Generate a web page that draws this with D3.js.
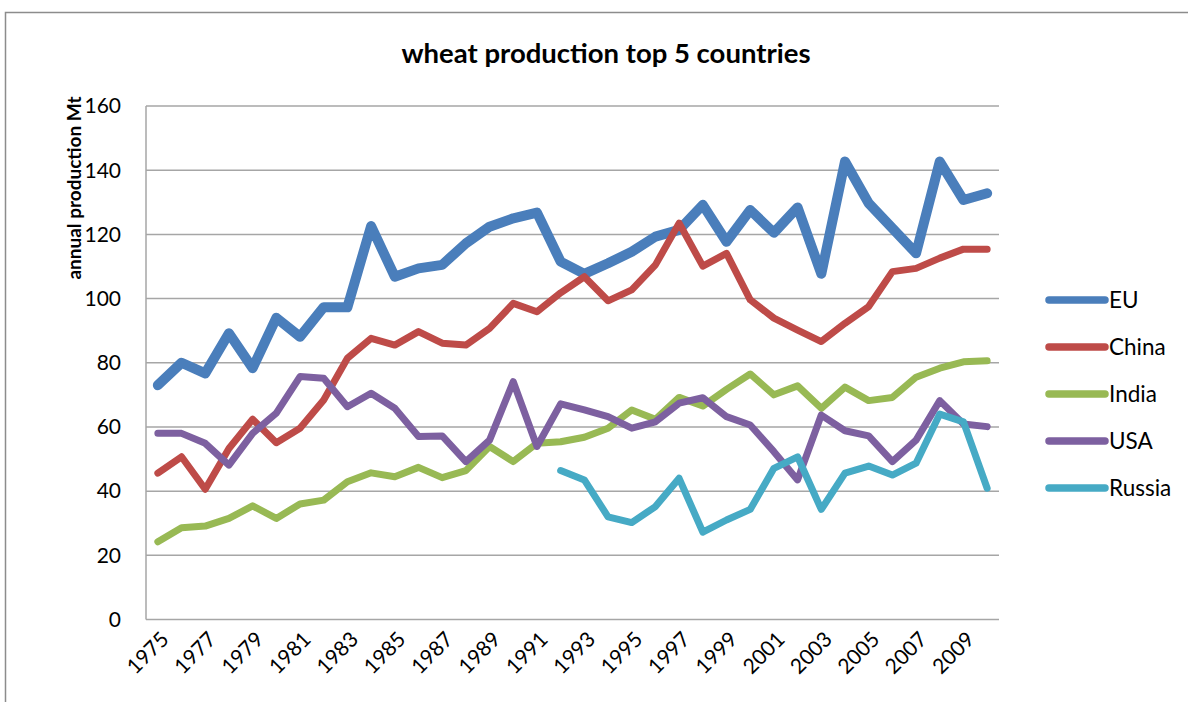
<!DOCTYPE html>
<html>
<head>
<meta charset="utf-8">
<script src="https://cdn.jsdelivr.net/npm/d3@7"></script>
<style>
body { margin: 0; background: #fff; }
text { font-family: Lato, "Open Sans", sans-serif; }
</style>
</head>
<body>
<svg width="1188" height="702"></svg>
<script>
// years 1975 - 2010
var years = d3.range(1975, 2011);
var yTicks = [0, 20, 40, 60, 80, 100, 120, 140, 160];

var eu = [73, 80, 76.7, 89.2, 78.3, 94, 88.1, 97.3, 97.3, 122.6, 106.8, 109.4, 110.5, 117.2, 122.4, 125, 126.8, 111.5, 107.7, 111, 114.6, 119.3, 121.4, 129.2, 117.7, 127.6, 120.5, 128.4, 107.7, 142.7, 129.7, 121.9, 114.1, 142.7, 130.7, 132.8];
var china = [45.6, 50.7, 40.6, 53.3, 62.4, 55.1, 59.6, 68.4, 81.4, 87.6, 85.5, 89.7, 86.1, 85.5, 90.7, 98.5, 95.9, 101.8, 106.8, 99.3, 102.7, 110.5, 123.5, 110.1, 114.1, 99.6, 93.9, 90.2, 86.6, 92.3, 97.5, 108.4, 109.4, 112.6, 115.4, 115.4];
var india = [24.2, 28.6, 29.1, 31.5, 35.4, 31.5, 36, 37.2, 42.9, 45.7, 44.5, 47.4, 44.2, 46.4, 53.9, 49.2, 54.9, 55.4, 56.8, 59.6, 65.3, 62.4, 69.2, 66.5, 71.7, 76.5, 70, 72.8, 65.8, 72.4, 68.2, 69.2, 75.5, 78.3, 80.3, 80.6];
var usa = [58, 58, 54.9, 48.1, 58, 64.3, 75.7, 75.2, 66.3, 70.5, 65.8, 57, 57.2, 49.2, 55.9, 74.1, 53.9, 67.2, 65.3, 63.2, 59.6, 61.6, 67.4, 69.1, 63.2, 60.6, 52.3, 43.5, 63.7, 58.8, 57.2, 49.2, 55.9, 68.2, 60.9, 60.1];
// Russia only from 1992
var russia = [null, null, null, null, null, null, null, null, null, null, null, null, null, null, null, null, null, 46.4, 43.5, 32, 30.2, 35.2, 44, 27.2, 31, 34.3, 47.1, 50.7, 34.3, 45.6, 47.8, 45, 48.7, 64, 61.6, 40.9];

var series = [
    {name: "EU", values: eu, color: "#4a7ebb", width: 10},
    {name: "China", values: china, color: "#be4b48", width: 7},
    {name: "India", values: india, color: "#98b954", width: 7},
    {name: "USA", values: usa, color: "#7d60a0", width: 7},
    {name: "Russia", values: russia, color: "#46aac5", width: 7}
];

var svg = d3.select("svg");

// chart frame
svg.append("rect")
    .attr("x", 5.5).attr("y", 12.5)
    .attr("width", 1210).attr("height", 720)
    .attr("fill", "none")
    .attr("stroke", "#8c8c8c")
    .attr("stroke-width", 1.5);

var plotLeft = 146, plotRight = 999, plotTop = 106, plotBottom = 619.5;

var x = d3.scaleBand()
    .domain(years)
    .range([plotLeft, plotRight]);

var y = d3.scaleLinear()
    .domain([0, 160])
    .range([plotBottom, plotTop]);

// gridlines
svg.append("g")
    .selectAll("line")
    .data(yTicks)
    .enter().append("line")
    .attr("x1", plotLeft).attr("x2", plotRight)
    .attr("y1", function(d) { return y(d); })
    .attr("y2", function(d) { return y(d); })
    .attr("stroke", "#a6a6a6")
    .attr("stroke-width", 1.5);

// left axis line
svg.append("line")
    .attr("x1", plotLeft).attr("x2", plotLeft)
    .attr("y1", plotTop).attr("y2", plotBottom)
    .attr("stroke", "#a6a6a6")
    .attr("stroke-width", 1.5);

// y tick labels
svg.append("g")
    .selectAll("text")
    .data(yTicks)
    .enter().append("text")
    .attr("x", 121)
    .attr("y", function(d) { return y(d); })
    .attr("dy", "0.35em")
    .attr("text-anchor", "end")
    .style("font-size", "21px")
    .text(function(d) { return d; });

// x tick labels, every other year
svg.append("g")
    .selectAll("text")
    .data(years.filter(function(d) { return (d - 1975) % 2 == 0; }))
    .enter().append("text")
    .attr("transform", function(d) {
        return "translate(" + (x(d) + x.bandwidth() / 2 + 7) + "," + (plotBottom + 16) + ") rotate(-45)";
    })
    .attr("text-anchor", "end")
    .attr("dy", "0.35em")
    .style("font-size", "21px")
    .text(function(d) { return d; });

// lines
var line = d3.line()
    .defined(function(d) { return d != null; })
    .x(function(d, i) { return x(years[i]) + x.bandwidth() / 2; })
    .y(function(d) { return y(d); });

svg.append("g")
    .selectAll("path")
    .data(series)
    .enter().append("path")
    .attr("d", function(d) { return line(d.values); })
    .attr("fill", "none")
    .attr("stroke", function(d) { return d.color; })
    .attr("stroke-width", function(d) { return d.width; })
    .attr("stroke-linejoin", "round")
    .attr("stroke-linecap", "round");

// title
svg.append("text")
    .attr("x", 606)
    .attr("y", 63)
    .attr("text-anchor", "middle")
    .attr("font-weight", "bold")
    .style("font-size", "27.5px")
    .text("wheat production top 5 countries");

// y axis title
svg.append("text")
    .attr("transform", "translate(81,188) rotate(-90)")
    .attr("text-anchor", "middle")
    .attr("font-weight", "bold")
    .style("font-size", "19px")
    .text("annual production Mt");

// legend
var legend = svg.append("g")
    .selectAll("g")
    .data(series)
    .enter().append("g")
    .attr("transform", function(d, i) { return "translate(1046," + (300 + i * 47) + ")"; });

legend.append("line")
    .attr("x1", 3).attr("x2", 59)
    .attr("stroke", function(d) { return d.color; })
    .attr("stroke-width", 7.5)
    .attr("stroke-linecap", "round");

legend.append("text")
    .attr("x", 63)
    .attr("dy", "0.35em")
    .style("font-size", "22.5px")
    .text(function(d) { return d.name; });
</script>
</body>
</html>
